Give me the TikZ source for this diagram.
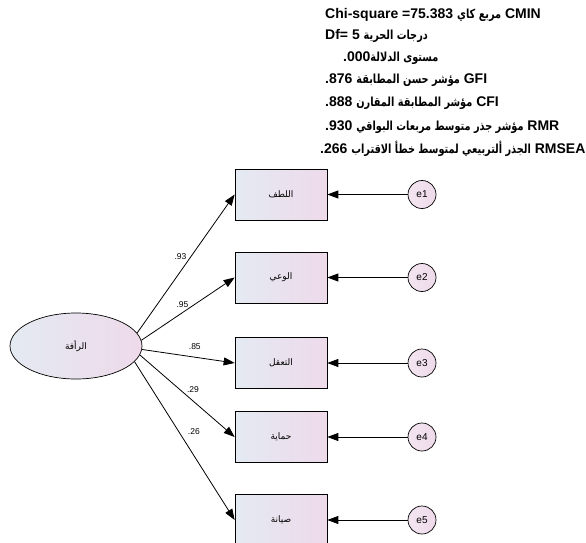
\documentclass[tikz,border=0pt]{standalone}
\usepackage{fontspec}
\setmainfont{Liberation Sans}
\newfontfamily\arabicfont[Script=Arabic]{DejaVu Sans}
\TeXXeTstate=1
\usetikzlibrary{arrows.meta,shapes.geometric}
\definecolor{boxblue}{RGB}{228,234,242}
\definecolor{boxpink}{RGB}{238,218,234}
\def\ar#1{{\arabicfont\beginR #1\endR}}
\def\arb#1{\scalebox{0.78}[1]{\arabicfont\fontsize{12.5}{14}\selectfont\beginR #1\endR}}

\tikzset{
	obs/.style={draw, line width=0.7pt, minimum width=92pt, minimum height=51pt, left color=boxblue, right color=boxpink, font=\fontsize{9}{10}\selectfont},
	err/.style={draw, circle, line width=0.7pt, minimum size=28pt, inner sep=0pt, left color=boxpink!70, right color=boxpink, font=\fontsize{10}{12}\selectfont},
	lat/.style={draw, ellipse, line width=0.7pt, minimum width=132pt, minimum height=66pt, left color=boxblue, right color=boxpink, font=\fontsize{9}{10}\selectfont},
	load/.style={-{Triangle[length=11pt,width=8pt]}, line width=0.8pt},
	wt/.style={font=\fontsize{8.5}{10}\selectfont, inner sep=1pt},
	stat/.style={anchor=west, inner sep=0pt, font=\bfseries\fontsize{14}{16}\selectfont}
}

\begin{document}
\begin{tikzpicture}[x=1pt, y=-1pt]
	%%%%% START %%%%%
	\useasboundingbox (0, 0) rectangle (586, 543);
	
	% fit indices
	\node[stat] (cmin) at (325, 15) {Chi-square =75.383 \arb{مربع كاي} CMIN};
	\node[stat] (df) at (325, 36) {Df= 5 \arb{درجات الحرية}};
	\node[stat] (sig) at (343, 58) {.000\arb{مستوى الدلالة}};
	\node[stat] (gfi) at (325, 80) {.876 \arb{مؤشر حسن المطابقة} GFI};
	\node[stat] (cfi) at (325, 103) {.888 \arb{مؤشر المطابقة المقارن} CFI};
	\node[stat] (rmr) at (325, 127) {.930 \arb{مؤشر جذر متوسط مربعات البواقي} RMR};
	\node[stat] (rmsea) at (320, 149) {.266 \arb{الجذر ألتربيعي لمتوسط خطأ الاقتراب} RMSEA};
	
	% latent variable
	\node[lat] (raafa) at (76, 346) {\ar{الرأفة}};
	
	% observed variables
	\node[obs] (lutf) at (281, 194.5) {\ar{اللطف}};
	\node[obs] (waai) at (281, 277.5) {\ar{الوعي}};
	\node[obs] (taaqul) at (281, 363) {\ar{التعقل}};
	\node[obs] (himaya) at (281, 437) {\ar{حماية}};
	\node[obs] (siyana) at (281, 520) {\ar{صيانة}};
	
	% errors
	\node[err] (e1) at (422, 194.5) {e1};
	\node[err] (e2) at (422, 277.5) {e2};
	\node[err] (e3) at (422, 363) {e3};
	\node[err] (e4) at (422, 437) {e4};
	\node[err] (e5) at (422, 520) {e5};
	
	% loadings
	\draw[load] (raafa.12) -- node[wt, pos=0.55, left=3pt] {.93} (lutf.west);
	\draw[load] (raafa.5) -- node[wt, pos=0.44, above=4pt] {.95} (waai.west);
	\draw[load] (raafa.-3) -- node[wt, pos=0.57, above=6pt] {.85} (taaqul.west);
	\draw[load] (raafa.-8) -- node[wt, pos=0.56, above=7pt] {.29} (himaya.west);
	\draw[load] (raafa.-15) -- node[wt, pos=0.44, right=8pt] {.26} (siyana.west);
	
	\foreach \e/\v in {e1/lutf, e2/waai, e3/taaqul, e4/himaya, e5/siyana}
		\draw[load] (\e) -- (\v);
	
	%%%%% END %%%%%
\end{tikzpicture}
\end{document}
